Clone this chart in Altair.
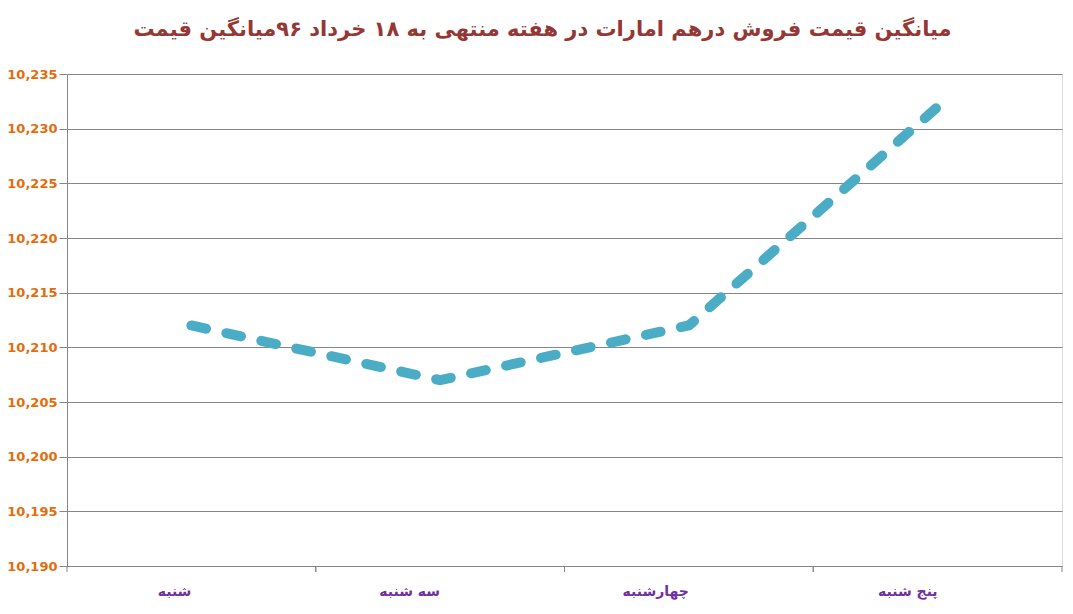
import altair as alt
import pandas as pd

days = ["شنبه", "سه شنبه", "چهارشنبه", "پنج شنبه"]
prices = [10212, 10207, 10212, 10232]
y_ticks = [10190, 10195, 10200, 10205, 10210, 10215, 10220, 10225, 10230, 10235]
title_text = "میانگین قیمت فروش درهم امارات در هفته منتهی به ۱۸ خرداد ۹۶میانگین قیمت"

df = pd.DataFrame({"day": days, "price": prices})

W, H = 995, 492

xscale = alt.Scale(type="band", domain=days, paddingInner=0, paddingOuter=0)
yscale = alt.Scale(domain=[10190, 10235], nice=False, zero=False)

line = alt.Chart(df).mark_line(
    color="#4BACC6", strokeWidth=10, strokeDash=[15, 20.8],
    strokeCap="round", strokeJoin="round", interpolate="linear"
).encode(
    x=alt.X("day:N", scale=xscale, sort=days, bandPosition=0.5,
            axis=alt.Axis(title=None, labelAngle=0, ticks=False,
                          labelColor="#7030A0", labelFont="DejaVu Sans",
                          labelFontWeight="bold", labelFontSize=14,
                          labelPadding=25, domainColor="#868686")),
    y=alt.Y("price:Q", scale=yscale,
            axis=alt.Axis(title=None, values=y_ticks, format=",",
                          labelColor="#E46C0A", labelFont="DejaVu Sans",
                          labelFontWeight="bold", labelFontSize=13,
                          labelPadding=2, tickSize=8, tickColor="#868686",
                          gridColor="#868686", gridWidth=1,
                          domainColor="#868686")),
)

ticks0 = alt.Chart(df).mark_rule(color="#868686", strokeWidth=1).encode(
    x=alt.X("day:N", scale=xscale, sort=days, bandPosition=0),
    y=alt.value(H), y2=alt.value(H + 6),
)
ticks1 = alt.Chart(df).mark_rule(color="#868686", strokeWidth=1).encode(
    x=alt.X("day:N", scale=xscale, sort=days, bandPosition=1),
    y=alt.value(H), y2=alt.value(H + 6),
)

chart = alt.layer(ticks0, ticks1, line).properties(
    width=W, height=H,
    title=alt.TitleParams(title_text, color="#953735", font="DejaVu Sans",
                          fontWeight="bold", fontSize=21, offset=28, dx=-22),
    autosize=alt.AutoSizeParams(type="none"),
    padding={"left": 59, "top": 66, "right": 3, "bottom": 38},
).configure_view(fill="#EBF1DE", stroke=None).configure(background="white")

chart.save("out.html", embed_options={"renderer": "svg", "actions": False})
